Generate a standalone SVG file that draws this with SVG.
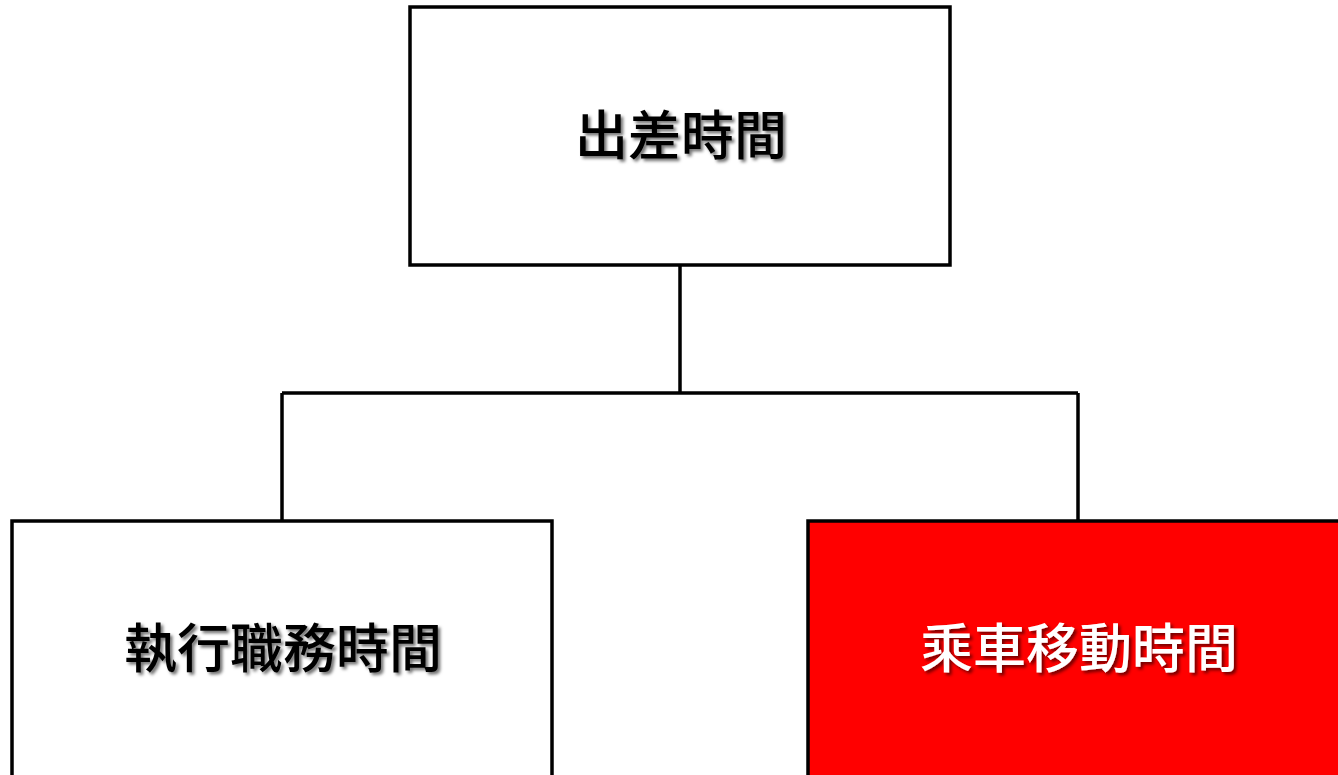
<svg xmlns="http://www.w3.org/2000/svg" width="1338" height="775" viewBox="0 0 1338 775">
<style>
.box{stroke:#000;stroke-width:3.5;}
.lbl{font-family:"Noto Sans CJK TC","Noto Sans CJK JP",sans-serif;font-weight:500;font-size:53px;text-anchor:middle;dominant-baseline:central;filter:url(#sh);}
.conn{fill:none;stroke:#000;stroke-width:3.5;}
</style>
<defs>
<filter id="sh" x="-10%" y="-30%" width="120%" height="160%">
<feDropShadow dx="2.5" dy="2.5" stdDeviation="1.5" flood-color="#000" flood-opacity="0.55"/>
</filter>
</defs>
<rect width="1338" height="775" fill="#fff"/>
<g id="connectors">
<path class="conn" d="M680 265 V393 M282 393 H1078 M282 393 V521 M1078 393 V521"/>
</g>
<g id="node-top">
<rect class="box" x="410" y="7" width="540" height="258" fill="#fff"/>
<text class="lbl" x="681" y="132" fill="#000">出差時間</text>
</g>
<g id="node-left">
<rect class="box" x="12" y="521" width="540" height="270" fill="#fff"/>
<text class="lbl" x="283" y="645" fill="#000">執行職務時間</text>
</g>
<g id="node-right">
<rect class="box" x="808" y="521" width="540" height="270" fill="#ff0000"/>
<text class="lbl" x="1079" y="645" fill="#fff">乘車移動時間</text>
</g>
</svg>
